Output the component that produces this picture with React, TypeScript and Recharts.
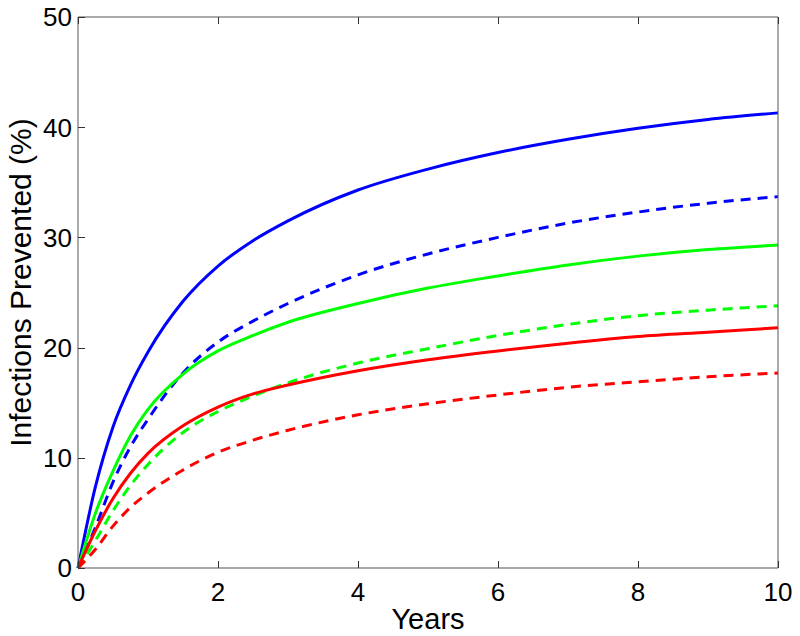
import { LineChart, Line, XAxis, YAxis } from "recharts";

const years = [0, 0.25, 0.5, 0.75, 1, 1.5, 2, 2.5, 3, 4, 5, 6, 7, 8, 9, 10];

// solid = one scenario, dashed = the other
const blueSolid = [0, 7.4, 12.8, 16.6, 19.6, 24.2, 27.4, 29.7, 31.5, 34.3, 36.2, 37.7, 38.9, 39.9, 40.7, 41.3];
const blueDashed = [0, 3.7, 7.8, 11.0, 13.5, 17.7, 20.5, 22.4, 24.0, 26.6, 28.5, 30.0, 31.3, 32.3, 33.1, 33.7];
const greenSolid = [0, 5, 8.8, 12.0, 14.4, 17.6, 19.7, 21.1, 22.3, 24.0, 25.4, 26.5, 27.5, 28.3, 28.9, 29.3];
const greenDashed = [0, 2.5, 5.2, 7.5, 9.4, 12.3, 14.2, 15.6, 16.8, 18.6, 19.9, 21.1, 22.1, 22.9, 23.4, 23.8];
const redSolid = [0, 3.4, 6.3, 8.6, 10.4, 12.9, 14.6, 15.8, 16.6, 17.9, 18.9, 19.7, 20.4, 21.0, 21.4, 21.8];
const redDashed = [0, 1.7, 3.8, 5.5, 6.8, 8.9, 10.5, 11.6, 12.5, 13.9, 14.9, 15.7, 16.4, 16.9, 17.35, 17.7];

const xTicks = [0, 2, 4, 6, 8, 10];
const yTicks = [0, 10, 20, 30, 40, 50];

const data = years.map((t, i) => ({
  t,
  blueSolid: blueSolid[i],
  blueDashed: blueDashed[i],
  greenSolid: greenSolid[i],
  greenDashed: greenDashed[i],
  redSolid: redSolid[i],
  redDashed: redDashed[i],
}));

const font = '"Liberation Sans", Arial, Helvetica, sans-serif';
const axisColor = "#555";
const tickColor = "#333";
const TICK = 7;

// MATLAB-style ticks: tick marks point into the plot box
function LeftTick({ x, y, payload }: any) {
  const px = Number(x);
  const py = Math.round(Number(y)) + 0.5;
  return (
    <g>
      <line x1={px + 6} x2={px + 6 + TICK} y1={py} y2={py} stroke={tickColor} strokeWidth={1} />
      <text x={px} y={Number(y)} dy="0.36em" textAnchor="end" fontSize={26} fontFamily={font} fill="#000">
        {payload.value}
      </text>
    </g>
  );
}

function BottomTick({ x, y, payload }: any) {
  const px = Math.round(Number(x)) + 0.5;
  const py = Number(y);
  return (
    <g>
      <line x1={px} x2={px} y1={py} y2={py - TICK} stroke={tickColor} strokeWidth={1} />
      <text x={Number(x)} y={py + 33} textAnchor="middle" fontSize={26} fontFamily={font} fill="#000">
        {payload.value}
      </text>
    </g>
  );
}

function RightTick({ x, y }: any) {
  const px = Number(x);
  const py = Math.round(Number(y)) + 0.5;
  return <line x1={px} x2={px - TICK} y1={py} y2={py} stroke={tickColor} strokeWidth={1} />;
}

function TopTick({ x, y }: any) {
  const px = Math.round(Number(x)) + 0.5;
  const py = Number(y);
  return <line x1={px} x2={px} y1={py} y2={py + TICK} stroke={tickColor} strokeWidth={1} />;
}

function YTitle(props: any) {
  const vb = props.viewBox || {};
  const cx = 31;
  const cy = (vb.y ?? 0) + (vb.height ?? 0) / 2 - 10;
  return (
    <text
      x={cx}
      y={cy}
      transform={`rotate(-90 ${cx} ${cy})`}
      textAnchor="middle"
      fontSize={30}
      fontFamily={font}
      fill="#000"
    >
      Infections Prevented (%)
    </text>
  );
}

export default function App() {
  return (
    <div style={{ position: "absolute", left: 0, top: 0, background: "#fff" }}>
      <LineChart
        width={800}
        height={636}
        data={data}
        margin={{ top: 0, right: 0, left: 0, bottom: 0 }}
      >
        <XAxis
          dataKey="t"
          type="number"
          domain={[0, 10]}
          ticks={xTicks}
          height={68}
          tick={<BottomTick />}
          tickSize={0}
          tickMargin={0}
          tickLine={false}
          axisLine={{ stroke: axisColor }}
          label={{
            value: "Years",
            position: "insideBottom",
            offset: 7,
            fontSize: 29,
            fill: "#000",
            fontFamily: font,
          }}
        />
        <XAxis
          xAxisId="top"
          dataKey="t"
          type="number"
          orientation="top"
          domain={[0, 10]}
          ticks={xTicks}
          height={17}
          tick={<TopTick />}
          tickSize={0}
          tickMargin={0}
          tickLine={false}
          axisLine={{ stroke: axisColor }}
        />
        <YAxis
          type="number"
          domain={[0, 50]}
          ticks={yTicks}
          width={78}
          tick={<LeftTick />}
          tickSize={0}
          tickMargin={6}
          tickLine={false}
          axisLine={{ stroke: axisColor }}
          label={<YTitle />}
        />
        <YAxis
          yAxisId="right"
          orientation="right"
          type="number"
          domain={[0, 50]}
          ticks={yTicks}
          width={22}
          tick={<RightTick />}
          tickSize={0}
          tickMargin={0}
          tickLine={false}
          axisLine={{ stroke: axisColor }}
        />
        <Line type="monotone" dataKey="blueSolid" stroke="#0000ff" strokeWidth={3} dot={false} isAnimationActive={false} />
        <Line type="monotone" dataKey="blueDashed" stroke="#0000ff" strokeWidth={3} strokeDasharray="10 7" dot={false} isAnimationActive={false} />
        <Line type="monotone" dataKey="greenSolid" stroke="#00ff00" strokeWidth={3} dot={false} isAnimationActive={false} />
        <Line type="monotone" dataKey="greenDashed" stroke="#00ff00" strokeWidth={3} strokeDasharray="10 7" dot={false} isAnimationActive={false} />
        <Line type="monotone" dataKey="redSolid" stroke="#ff0000" strokeWidth={3} dot={false} isAnimationActive={false} />
        <Line type="monotone" dataKey="redDashed" stroke="#ff0000" strokeWidth={3} strokeDasharray="10 7" dot={false} isAnimationActive={false} />
      </LineChart>
    </div>
  );
}
